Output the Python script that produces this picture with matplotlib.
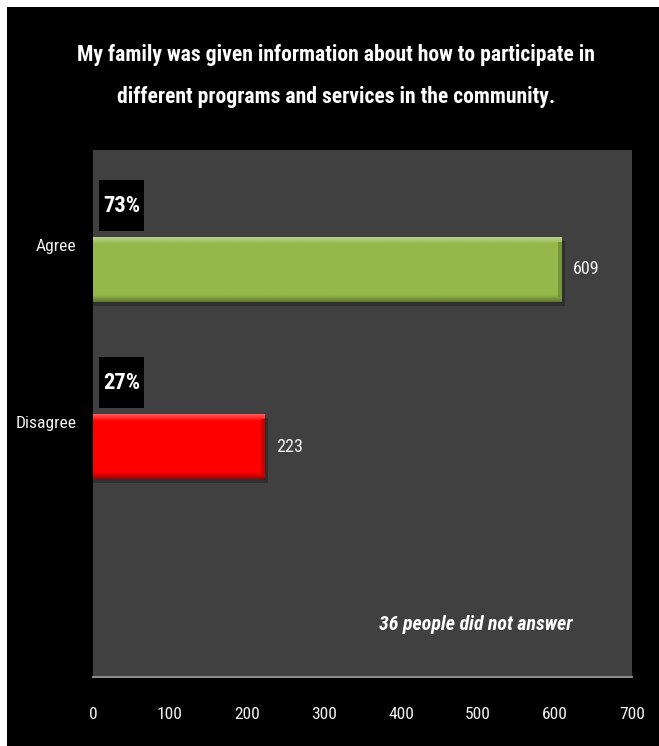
import numpy as np
import matplotlib
matplotlib.use("Agg")
import matplotlib.pyplot as plt
from matplotlib import font_manager
from matplotlib.font_manager import FontProperties
from matplotlib.patches import Rectangle
from matplotlib.colors import to_rgb

# survey data
categories = ["Agree", "Disagree"]
counts = [609, 223]
percents = ["73%", "27%"]
bar_colors = ["#96b84a", "#ff0000"]
x_ticks = [0, 100, 200, 300, 400, 500, 600, 700]
title_lines = ["My family was given information about how to participate in",
               "different programs and services in the community."]
note = "36 people did not answer"


def pick_font():
    """Find a narrow sans face; fall back to a regular one."""
    names = {f.name for f in font_manager.fontManager.ttflist}
    for n in ["Liberation Sans Narrow", "Roboto Condensed", "Open Sans Condensed",
              "Noto Sans Condensed", "DejaVu Sans Condensed"]:
        if n in names:
            return n, "normal"
    for n in ["DejaVu Sans", "Noto Sans", "Open Sans"]:
        path = font_manager.findfont(FontProperties(family=n, stretch="condensed"),
                                     fallback_to_default=False)
        if "ondensed" in path:
            return n, "condensed"
    for n in ["Roboto", "Liberation Sans"]:
        if n in names:
            return n, "normal"
    return "DejaVu Sans", "normal"


FONT, STRETCH = pick_font()
plt.rcParams["font.family"] = [FONT, "DejaVu Sans"]
plt.rcParams["font.stretch"] = STRETCH

W, H = 659, 746
fig = plt.figure(figsize=(W / 100, H / 100), dpi=100, facecolor="white")

# black backdrop with a thin white margin on the top and left
fig.patches.append(Rectangle((7 / W, 0), 1 - 7 / W, 1 - 7 / H, transform=fig.transFigure,
                             facecolor="black", edgecolor="none", zorder=-10))

ax = fig.add_axes([93 / W, 69 / H, 539 / W, 527 / H])
ax.set_facecolor("#404040")

bar_h = 0.367
ypos = np.arange(len(categories))


def shade(c, f):
    r, g, b = to_rgb(c)
    if f >= 0:
        return (r + (1 - r) * f, g + (1 - g) * f, b + (1 - b) * f)
    return (r * (1 + f), g * (1 + f), b * (1 + f))


def fit_width(txt, px):
    # rescale a text so its rendered width is about px pixels
    r = fig.canvas.get_renderer()
    w = txt.get_window_extent(renderer=r).width
    txt.set_fontsize(txt.get_fontsize() * px / w)


for y, val, col in zip(ypos, counts, bar_colors):
    # soft drop shadow under each bar
    ax.barh(y + 0.02, val + 4, height=bar_h, color="black", alpha=0.25, zorder=1)
    bar = ax.barh(y, val, height=bar_h, color=col, zorder=2)[0]
    # bevel: light top edge, dark bottom edge
    n = 60
    t = np.linspace(0, 1, n)
    prof = np.zeros(n)
    prof[t < 0.1] = 0.35 * (1 - t[t < 0.1] / 0.1)
    prof[t > 0.9] = -0.35 * ((t[t > 0.9] - 0.9) / 0.1)
    grad = np.array([shade(col, p) for p in prof])[:, None, :]
    im = ax.imshow(grad, aspect="auto", extent=(0, val, y + bar_h / 2, y - bar_h / 2),
                   origin="upper", zorder=3, interpolation="bilinear")
    im.set_clip_path(bar)
    # darker right-hand end
    ax.barh(y, 5, left=val - 5, height=bar_h * 0.84, color=shade(col, -0.2), zorder=4)

    lab = ax.annotate(f"{val}", xy=(val, y), xytext=(8, 0), textcoords="offset points",
                      ha="left", va="center", color="#f2f2f2", fontsize=14, zorder=5)
    fit_width(lab, 27)

# percentage tags above the bars
for y, pct in zip(ypos, percents):
    ax.add_patch(Rectangle((7.8, y - 0.506), 58.4, 0.288, facecolor="black",
                           edgecolor="none", zorder=5))
    t = ax.text(37, y - 0.36, pct, ha="center", va="center", color="white",
                fontsize=17, fontweight="bold", zorder=6)
    fit_width(t, 37)

ax.set_xlim(0, 700)
ax.set_ylim(2.302, -0.675)
ax.set_xticks(x_ticks)
ax.set_xticklabels([str(v) for v in x_ticks])
ax.set_yticks(ypos - 0.14)
ax.set_yticklabels(categories)
ax.tick_params(axis="x", length=0, pad=21, colors="#f2f2f2", labelsize=14)
ax.tick_params(axis="y", length=0, pad=12, colors="#f2f2f2", labelsize=14)

for side in ["top", "right", "left"]:
    ax.spines[side].set_visible(False)
ax.spines["bottom"].set_color("#8a8a8a")
ax.spines["bottom"].set_linewidth(1.5)

nt = ax.text(0.711, 0.099, note, transform=ax.transAxes, ha="center", va="center",
             color="white", fontsize=15, fontweight="bold", fontstyle="italic")
fit_width(nt, 194)

# two-line title, each line placed on its own
t1 = fig.text(336 / W, 1 - 55 / H, title_lines[0], ha="center", va="center",
              color="white", fontsize=20, fontweight="bold")
fit_width(t1, 516)
fig.text(336 / W, 1 - 97 / H, title_lines[1], ha="center", va="center",
         color="white", fontsize=t1.get_fontsize(), fontweight="bold")

# size tick labels so "100" spans about 26 px
fig.canvas.draw()
xl = ax.get_xticklabels()[1]
ts = 14 * 26 / xl.get_window_extent().width
ax.tick_params(axis="both", labelsize=ts)
ax.tick_params(axis="x", pad=21 + (14 - ts) * 0.6)

fig.savefig("out.png", dpi=100, facecolor=fig.get_facecolor())
